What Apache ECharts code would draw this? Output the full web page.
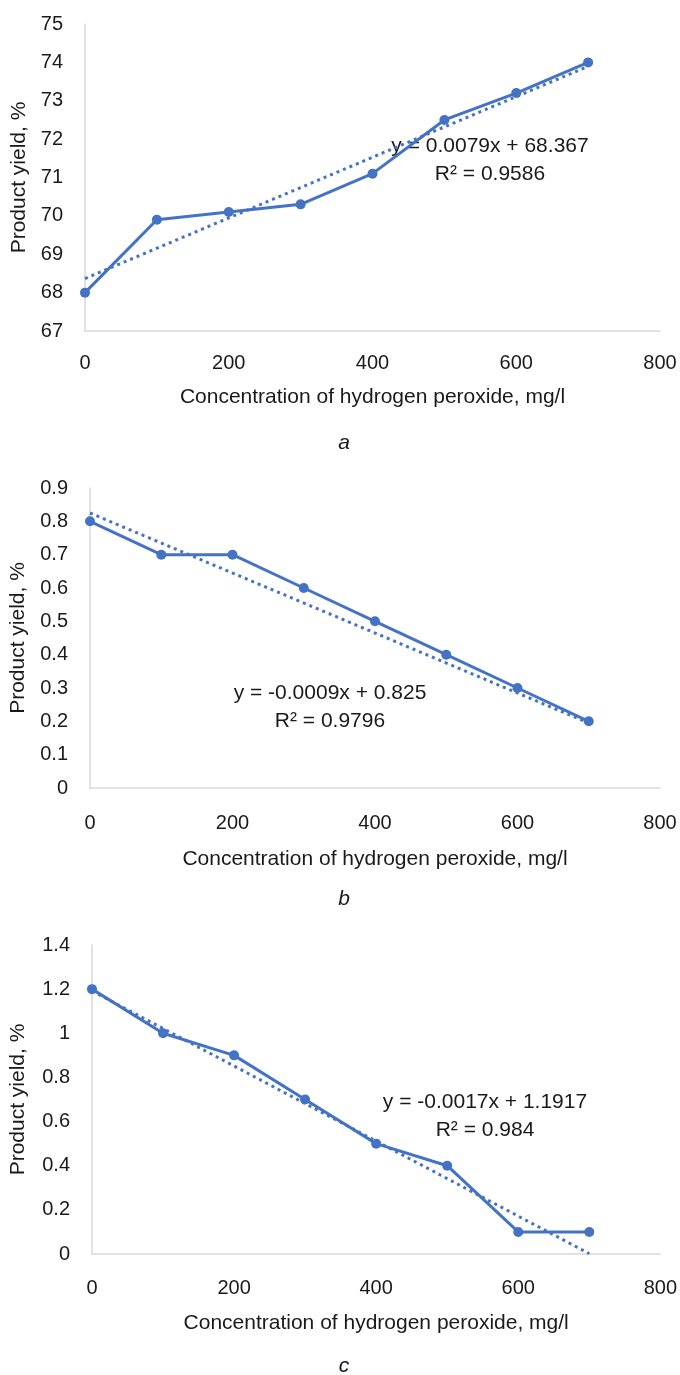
<!DOCTYPE html>
<html>
<head>
<meta charset="utf-8">
<script src="https://cdn.jsdelivr.net/npm/echarts@6/dist/echarts.min.js"></script>
<style>
html, body { margin: 0; padding: 0; background: #fff; }
#main { width: 680px; height: 1375px; }
</style>
</head>
<body>
<div id="main"></div>
<script>
// concentration of H2O2, mg/l
var conc = [0, 100, 200, 300, 400, 500, 600, 700];
// product yield, %  (panels a, b, c)
var yieldA = [68.0, 69.9, 70.1, 70.3, 71.1, 72.5, 73.2, 74.0];
var yieldB = [0.8, 0.7, 0.7, 0.6, 0.5, 0.4, 0.3, 0.2];
var yieldC = [1.2, 1.0, 0.9, 0.7, 0.5, 0.4, 0.1, 0.1];
// linear trendlines [slope, intercept]
var fitA = [0.0079, 68.367];
var fitB = [-0.0009, 0.825];
var fitC = [-0.0017, 1.1917];
var eqA = ['y = 0.0079x + 68.367', 'R² = 0.9586'];
var eqB = ['y = -0.0009x + 0.825', 'R² = 0.9796'];
var eqC = ['y = -0.0017x + 1.1917', 'R² = 0.984'];
// axis ranges [min, max, interval]
var yRangeA = [67, 75, 1];
var yRangeB = [0, 0.9, 0.1];
var yRangeC = [0, 1.4, 0.2];
var xRange = [0, 800, 200];
var panelLabels = ['a', 'b', 'c'];

var FONT = 'Liberation Sans';
var TXT = '#1a1a1a';
var BLUE = '#4472C4';

function pairs(xs, ys) {
    return xs.map(function (x, i) { return [x, ys[i]]; });
}
function trend(fit) {
    var x0 = conc[0], x1 = conc[conc.length - 1];
    return [[x0, fit[1] + fit[0] * x0], [x1, fit[1] + fit[0] * x1]];
}

var grids = [
    {left: 85, top: 24, width: 575, height: 307},
    {left: 89, top: 488, width: 571, height: 300},
    {left: 91, top: 945, width: 572, height: 309}
];
var yGaps = [55, 61, 63];
var xGaps = [56, 61, 59];
var xMargins = [22, 25, 24];
var yRanges = [yRangeA, yRangeB, yRangeC];
var yields = [yieldA, yieldB, yieldC];
var fits = [fitA, fitB, fitC];

var xAxes = [], yAxes = [], series = [];
grids.forEach(function (g, i) {
    xAxes.push({
        gridIndex: i, type: 'value',
        min: xRange[0], max: xRange[1], interval: xRange[2],
        name: 'Concentration of hydrogen peroxide, mg/l',
        nameLocation: 'middle', nameGap: xGaps[i],
        nameTextStyle: {fontFamily: FONT, fontSize: 21, color: TXT},
        axisLine: {show: true, onZero: false, lineStyle: {color: '#d9d9d9', width: 1.5}},
        axisTick: {show: false},
        splitLine: {show: false},
        axisLabel: {fontFamily: FONT, fontSize: 20, color: TXT, margin: xMargins[i]}
    });
    yAxes.push({
        gridIndex: i, type: 'value',
        min: yRanges[i][0], max: yRanges[i][1], interval: yRanges[i][2],
        name: 'Product yield, %',
        nameLocation: 'middle', nameGap: yGaps[i],
        nameTextStyle: {fontFamily: FONT, fontSize: 21, color: TXT},
        axisLine: {show: true, lineStyle: {color: '#d9d9d9', width: 1.5}},
        axisTick: {show: false},
        splitLine: {show: false},
        axisLabel: {fontFamily: FONT, fontSize: 20, color: TXT, margin: 22}
    });
    series.push({
        type: 'line', xAxisIndex: i, yAxisIndex: i,
        data: pairs(conc, yields[i]),
        symbol: 'circle', symbolSize: 10,
        itemStyle: {color: BLUE},
        lineStyle: {color: BLUE, width: 3}
    });
    series.push({
        type: 'line', xAxisIndex: i, yAxisIndex: i,
        data: trend(fits[i]),
        showSymbol: false,
        lineStyle: {color: BLUE, width: 3, type: [3, 4]}
    });
});

// equation labels and panel letters
var eqs = [eqA, eqB, eqC];
var eqPos = [[490, 146], [330, 693], [485, 1102]];
var letterY = [443, 899, 1366];
var graphics = [];
eqs.forEach(function (eq, i) {
    graphics.push({
        type: 'text', x: eqPos[i][0], y: eqPos[i][1],
        style: {text: eq[0], font: '21px "' + FONT + '"', fill: TXT, textAlign: 'center', textVerticalAlign: 'middle'}
    });
    graphics.push({
        type: 'text', x: eqPos[i][0], y: eqPos[i][1] + 28,
        style: {text: eq[1], font: '21px "' + FONT + '"', fill: TXT, textAlign: 'center', textVerticalAlign: 'middle'}
    });
    graphics.push({
        type: 'text', x: 344, y: letterY[i],
        style: {text: panelLabels[i], font: 'italic 21px "' + FONT + '"', fill: TXT, textAlign: 'center', textVerticalAlign: 'middle'}
    });
});

var myChart = echarts.init(document.getElementById('main'));
myChart.setOption({
    animation: false,
    backgroundColor: '#fff',
    grid: grids,
    xAxis: xAxes,
    yAxis: yAxes,
    series: series,
    graphic: graphics
});
</script>
</body>
</html>
